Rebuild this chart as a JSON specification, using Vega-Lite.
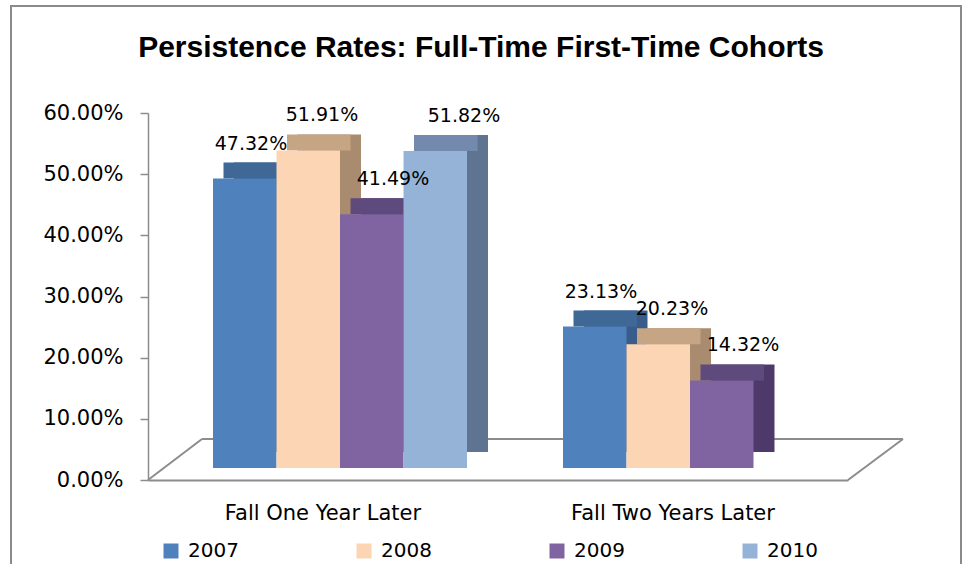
{
  "$schema": "https://vega.github.io/schema/vega-lite/v6.json",
  "autosize": {"type": "none"},
  "width": 950,
  "height": 562,
  "padding": {"left": 11, "top": 6, "right": 3, "bottom": 0},
  "background": "white",
  "config": {"view": {"stroke": "#8a8a8a", "strokeWidth": 2}, "font": "DejaVu Sans"},
  "title": {"text": "Persistence Rates: Full-Time First-Time Cohorts", "font": "Liberation Sans", "fontSize": 30, "fontWeight": "bold", "color": "#000000", "anchor": "middle", "frame": "group", "baseline": "middle", "offset": 0, "dx": -5, "dy": 72},
  "data": {"values": [
    {"group": "Fall One Year Later", "year": "2007", "value": 0.4732},
    {"group": "Fall One Year Later", "year": "2008", "value": 0.5191},
    {"group": "Fall One Year Later", "year": "2009", "value": 0.4149},
    {"group": "Fall One Year Later", "year": "2010", "value": 0.5182},
    {"group": "Fall Two Years Later", "year": "2007", "value": 0.2313},
    {"group": "Fall Two Years Later", "year": "2008", "value": 0.2023},
    {"group": "Fall Two Years Later", "year": "2009", "value": 0.1432}
  ]},
  "layer": [
    {
      "data": {"values": [{}]},
      "mark": {"type": "rule", "color": "#8c8c8c", "strokeWidth": 2, "x2Offset": 54, "y2Offset": -41},
      "encoding": {
        "x": {"datum": "Fall One Year Later", "type": "nominal", "bandPosition": 0, "title": null, "scale": {"domain": ["Fall One Year Later", "Fall Two Years Later"], "range": [137, 837], "paddingInner": 0, "paddingOuter": 0},
          "axis": {"orient": "bottom", "offset": -88, "ticks": false, "domainColor": "#8c8c8c", "domainWidth": 2, "labelFont": "DejaVu Sans", "labelFontSize": 21, "labelColor": "#000000", "labelPadding": 22, "labelAngle": 0, "labelLimit": 400, "title": null}},
        "x2": {"datum": "Fall One Year Later", "bandPosition": 0},
        "y": {"datum": 0, "type": "quantitative", "title": null, "scale": {"domain": [0, 0.6], "range": [474, 107], "nice": false},
          "axis": {"format": ".2%", "values": [0, 0.1, 0.2, 0.3, 0.4, 0.5, 0.6], "grid": false, "offset": -137, "domainColor": "#8c8c8c", "domainWidth": 1.5, "tickColor": "#8c8c8c", "tickSize": 8, "tickWidth": 1.5, "labelFont": "DejaVu Sans", "labelFontSize": 21, "labelColor": "#000000", "labelPadding": 17, "title": null}},
        "y2": {"datum": 0}
      }
    },
    {
      "data": {"values": [{}]},
      "mark": {"type": "rule", "color": "#8c8c8c", "strokeWidth": 2, "xOffset": 54, "yOffset": -41, "x2Offset": 55, "y2Offset": -41},
      "encoding": {
        "x": {"datum": "Fall One Year Later", "type": "nominal", "bandPosition": 0, "title": null,
          "axis": {"orient": "bottom", "offset": -88, "ticks": false, "domainColor": "#8c8c8c", "domainWidth": 2, "labelFont": "DejaVu Sans", "labelFontSize": 21, "labelColor": "#000000", "labelPadding": 22, "labelAngle": 0, "labelLimit": 400, "title": null}},
        "x2": {"datum": "Fall Two Years Later", "bandPosition": 1},
        "y": {"datum": 0, "type": "quantitative", "title": null,
          "axis": {"format": ".2%", "values": [0, 0.1, 0.2, 0.3, 0.4, 0.5, 0.6], "grid": false, "offset": -137, "domainColor": "#8c8c8c", "domainWidth": 1.5, "tickColor": "#8c8c8c", "tickSize": 8, "tickWidth": 1.5, "labelFont": "DejaVu Sans", "labelFontSize": 21, "labelColor": "#000000", "labelPadding": 17, "title": null}},
        "y2": {"datum": 0}
      }
    },
    {
      "data": {"values": [{}]},
      "mark": {"type": "rule", "color": "#8c8c8c", "strokeWidth": 2, "x2Offset": 55, "y2Offset": -41},
      "encoding": {
        "x": {"datum": "Fall Two Years Later", "type": "nominal", "bandPosition": 1, "title": null,
          "axis": {"orient": "bottom", "offset": -88, "ticks": false, "domainColor": "#8c8c8c", "domainWidth": 2, "labelFont": "DejaVu Sans", "labelFontSize": 21, "labelColor": "#000000", "labelPadding": 22, "labelAngle": 0, "labelLimit": 400, "title": null}},
        "x2": {"datum": "Fall Two Years Later", "bandPosition": 1},
        "y": {"datum": 0, "type": "quantitative", "title": null,
          "axis": {"format": ".2%", "values": [0, 0.1, 0.2, 0.3, 0.4, 0.5, 0.6], "grid": false, "offset": -137, "domainColor": "#8c8c8c", "domainWidth": 1.5, "tickColor": "#8c8c8c", "tickSize": 8, "tickWidth": 1.5, "labelFont": "DejaVu Sans", "labelFontSize": 21, "labelColor": "#000000", "labelPadding": 17, "title": null}},
        "y2": {"datum": 0}
      }
    },
    {
      "mark": {"type": "bar", "yOffset": -28, "y2Offset": -28},
      "encoding": {
        "x": {"field": "group", "type": "nominal", "title": null,
          "axis": {"orient": "bottom", "offset": -88, "ticks": false, "domainColor": "#8c8c8c", "domainWidth": 2, "labelFont": "DejaVu Sans", "labelFontSize": 21, "labelColor": "#000000", "labelPadding": 22, "labelAngle": 0, "labelLimit": 400, "title": null}},
        "xOffset": {"field": "year", "type": "nominal", "scale": {"domain": ["2007", "2008", "2009", "2010"], "range": [86, 340], "paddingInner": 0, "paddingOuter": 0}},
        "y": {"field": "value", "type": "quantitative", "title": null,
          "axis": {"format": ".2%", "values": [0, 0.1, 0.2, 0.3, 0.4, 0.5, 0.6], "grid": false, "offset": -137, "domainColor": "#8c8c8c", "domainWidth": 1.5, "tickColor": "#8c8c8c", "tickSize": 8, "tickWidth": 1.5, "labelFont": "DejaVu Sans", "labelFontSize": 21, "labelColor": "#000000", "labelPadding": 17, "title": null}},
        "y2": {"datum": 0},
        "fill": {"field": "year", "type": "nominal", "legend": null, "scale": {"domain": ["2007", "2008", "2009", "2010"], "range": ["#385D8A", "#A98C70", "#4E3A6A", "#5F7491"]}}
      }
    },
    {
      "mark": {"type": "bar", "yOffset": -28, "y2Offset": -12},
      "encoding": {
        "x": {"field": "group", "type": "nominal", "title": null,
          "axis": {"orient": "bottom", "offset": -88, "ticks": false, "domainColor": "#8c8c8c", "domainWidth": 2, "labelFont": "DejaVu Sans", "labelFontSize": 21, "labelColor": "#000000", "labelPadding": 22, "labelAngle": 0, "labelLimit": 400, "title": null}},
        "xOffset": {"field": "year", "type": "nominal", "scale": {"domain": ["2007", "2008", "2009", "2010"], "range": [75.5, 329.5], "paddingInner": 0, "paddingOuter": 0}},
        "y": {"field": "value", "type": "quantitative", "title": null,
          "axis": {"format": ".2%", "values": [0, 0.1, 0.2, 0.3, 0.4, 0.5, 0.6], "grid": false, "offset": -137, "domainColor": "#8c8c8c", "domainWidth": 1.5, "tickColor": "#8c8c8c", "tickSize": 8, "tickWidth": 1.5, "labelFont": "DejaVu Sans", "labelFontSize": 21, "labelColor": "#000000", "labelPadding": 17, "title": null}},
        "y2": {"field": "value"},
        "fill": {"field": "year", "type": "nominal", "legend": null, "scale": {"domain": ["2007", "2008", "2009", "2010"], "range": ["#3F6897", "#C6A584", "#5F4A7D", "#7389AD"]}}
      }
    },
    {
      "mark": {"type": "bar", "yOffset": -12, "y2Offset": -12},
      "encoding": {
        "x": {"field": "group", "type": "nominal", "title": null,
          "axis": {"orient": "bottom", "offset": -88, "ticks": false, "domainColor": "#8c8c8c", "domainWidth": 2, "labelFont": "DejaVu Sans", "labelFontSize": 21, "labelColor": "#000000", "labelPadding": 22, "labelAngle": 0, "labelLimit": 400, "title": null}},
        "xOffset": {"field": "year", "type": "nominal", "scale": {"domain": ["2007", "2008", "2009", "2010"], "range": [65, 319], "paddingInner": 0, "paddingOuter": 0}},
        "y": {"field": "value", "type": "quantitative", "title": null,
          "axis": {"format": ".2%", "values": [0, 0.1, 0.2, 0.3, 0.4, 0.5, 0.6], "grid": false, "offset": -137, "domainColor": "#8c8c8c", "domainWidth": 1.5, "tickColor": "#8c8c8c", "tickSize": 8, "tickWidth": 1.5, "labelFont": "DejaVu Sans", "labelFontSize": 21, "labelColor": "#000000", "labelPadding": 17, "title": null}},
        "y2": {"datum": 0},
        "color": {"field": "year", "type": "nominal", "scale": {"domain": ["2007", "2008", "2009", "2010"], "range": ["#4F81BD", "#FCD5B5", "#8064A2", "#95B3D7"]}, "legend": {"orient": "none", "legendX": 150, "legendY": 535, "direction": "horizontal", "columns": 4, "title": null, "symbolType": "square", "symbolSize": 225, "symbolStrokeWidth": 0, "labelFont": "DejaVu Sans", "labelFontSize": 20, "labelColor": "#000000", "labelOffset": 7, "columnPadding": 115, "padding": 0}}
      }
    },
    {
      "mark": {"type": "text", "font": "DejaVu Sans", "fontSize": 19, "color": "#000000", "align": "center", "baseline": "middle", "dy": -47},
      "encoding": {
        "x": {"field": "group", "type": "nominal", "title": null,
          "axis": {"orient": "bottom", "offset": -88, "ticks": false, "domainColor": "#8c8c8c", "domainWidth": 2, "labelFont": "DejaVu Sans", "labelFontSize": 21, "labelColor": "#000000", "labelPadding": 22, "labelAngle": 0, "labelLimit": 400, "title": null}},
        "xOffset": {"field": "year", "type": "nominal", "scale": {"domain": ["2007", "2008", "2009", "2010"], "range": [103, 316], "padding": 0}},
        "y": {"field": "value", "type": "quantitative", "title": null,
          "axis": {"format": ".2%", "values": [0, 0.1, 0.2, 0.3, 0.4, 0.5, 0.6], "grid": false, "offset": -137, "domainColor": "#8c8c8c", "domainWidth": 1.5, "tickColor": "#8c8c8c", "tickSize": 8, "tickWidth": 1.5, "labelFont": "DejaVu Sans", "labelFontSize": 21, "labelColor": "#000000", "labelPadding": 17, "title": null}},
        "text": {"field": "value", "type": "quantitative", "format": ".2%"}
      }
    }
  ],
  "resolve": {"scale": {"fill": "independent", "xOffset": "independent"}}
}
